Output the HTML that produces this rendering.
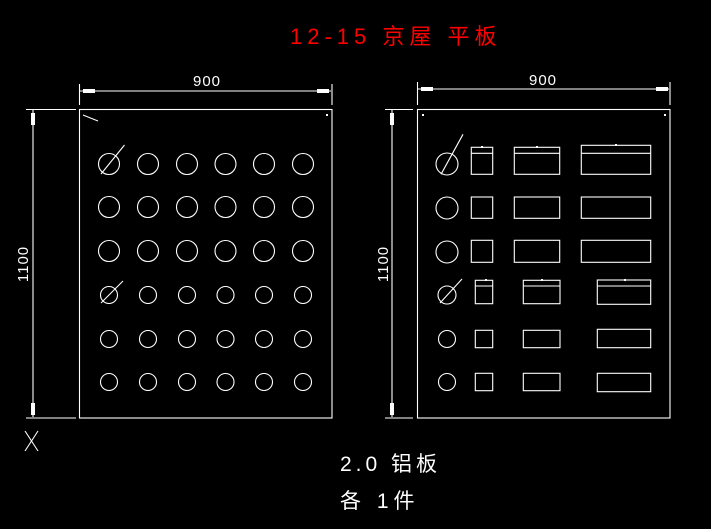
<!DOCTYPE html>
<html><head><meta charset="utf-8"><style>
html,body{margin:0;padding:0;background:#000;width:711px;height:529px;overflow:hidden}
svg{display:block}
text{font-family:"Liberation Sans","Noto Sans CJK SC",sans-serif}
</style></head><body>
<svg width="711" height="529" viewBox="0 0 711 529" xmlns="http://www.w3.org/2000/svg">
<rect width="711" height="529" fill="#000"/>
<text x="290" y="44" fill="#ff0000" font-size="22" letter-spacing="5">12-15 京屋 平板</text>
<g stroke="#fff" fill="none" stroke-width="1.1">
<rect x="79.5" y="109.5" width="252.5" height="308.5"/>
<line x1="79.5" y1="84" x2="79.5" y2="105"/><line x1="332" y1="84" x2="332" y2="105"/>
<line x1="80" y1="91" x2="331" y2="91"/>
<line x1="26" y1="109.5" x2="76" y2="109.5"/><line x1="26" y1="418" x2="76" y2="418"/>
<line x1="33" y1="110" x2="33" y2="417"/>
<line x1="83" y1="115" x2="98" y2="121"/>
<line x1="101" y1="174" x2="124.5" y2="145"/>
<line x1="101" y1="303" x2="123" y2="281"/>
<rect x="417.5" y="109.5" width="252.5" height="308.5"/>
<line x1="417.5" y1="82" x2="417.5" y2="105"/><line x1="670" y1="82" x2="670" y2="105"/>
<line x1="418" y1="89" x2="669" y2="89"/>
<line x1="385" y1="109.5" x2="413" y2="109.5"/><line x1="385" y1="418" x2="413" y2="418"/>
<line x1="392" y1="110" x2="392" y2="417"/>
<line x1="441" y1="174.3" x2="463" y2="134.3"/>
<line x1="440" y1="303" x2="462" y2="279"/>
<g>
<circle cx="109" cy="164" r="10.5"/><circle cx="148" cy="164" r="10.5"/><circle cx="187" cy="164" r="10.5"/><circle cx="225.5" cy="164" r="10.5"/><circle cx="264" cy="164" r="10.5"/><circle cx="303" cy="164" r="10.5"/>
<circle cx="109" cy="207" r="10.5"/><circle cx="148" cy="207" r="10.5"/><circle cx="187" cy="207" r="10.5"/><circle cx="225.5" cy="207" r="10.5"/><circle cx="264" cy="207" r="10.5"/><circle cx="303" cy="207" r="10.5"/>
<circle cx="109" cy="251" r="10.5"/><circle cx="148" cy="251" r="10.5"/><circle cx="187" cy="251" r="10.5"/><circle cx="225.5" cy="251" r="10.5"/><circle cx="264" cy="251" r="10.5"/><circle cx="303" cy="251" r="10.5"/>
<circle cx="109" cy="295" r="8.5"/><circle cx="148" cy="295" r="8.5"/><circle cx="187" cy="295" r="8.5"/><circle cx="225.5" cy="295" r="8.5"/><circle cx="264" cy="295" r="8.5"/><circle cx="303" cy="295" r="8.5"/>
<circle cx="109" cy="339" r="8.5"/><circle cx="148" cy="339" r="8.5"/><circle cx="187" cy="339" r="8.5"/><circle cx="225.5" cy="339" r="8.5"/><circle cx="264" cy="339" r="8.5"/><circle cx="303" cy="339" r="8.5"/>
<circle cx="109" cy="382" r="8.5"/><circle cx="148" cy="382" r="8.5"/><circle cx="187" cy="382" r="8.5"/><circle cx="225.5" cy="382" r="8.5"/><circle cx="264" cy="382" r="8.5"/><circle cx="303" cy="382" r="8.5"/>
</g>
<circle cx="447" cy="164" r="11"/><circle cx="447" cy="208" r="11"/><circle cx="447" cy="252" r="11"/>
<circle cx="447" cy="295" r="9"/><circle cx="447" cy="339" r="8.5"/><circle cx="447" cy="382" r="8.5"/>
<rect x="471.3" y="147.3" width="21.4" height="27"/><line x1="471.3" y1="153.3" x2="492.7" y2="153.3"/>
<rect x="514.3" y="147.3" width="45.4" height="27"/><line x1="514.3" y1="153.3" x2="559.7" y2="153.3"/>
<rect x="581.3" y="145.3" width="69.4" height="29"/><line x1="581.3" y1="153.3" x2="650.7" y2="153.3"/>
<rect x="471.3" y="197" width="21.4" height="21.3"/><rect x="514.3" y="197" width="45.4" height="21.3"/><rect x="581.3" y="197" width="69.4" height="21.3"/>
<rect x="471.3" y="240.3" width="21.4" height="22"/><rect x="514.3" y="240.3" width="45.4" height="22"/><rect x="581.3" y="240.3" width="69.4" height="22"/>
<rect x="475.3" y="280.3" width="17.4" height="23.4"/><line x1="475.3" y1="286" x2="492.7" y2="286"/>
<rect x="523.3" y="280.3" width="36.7" height="23.4"/><line x1="523.3" y1="286" x2="560" y2="286"/>
<rect x="597.3" y="280" width="53.4" height="24.3"/><line x1="597.3" y1="286" x2="650.7" y2="286"/>
<rect x="475.3" y="330.3" width="17.4" height="17.4"/><rect x="523.3" y="330.3" width="36.7" height="17.4"/><rect x="597.3" y="329.3" width="53.4" height="18.4"/>
<rect x="475.3" y="373.3" width="17.4" height="17.4"/><rect x="523.3" y="373.3" width="36.7" height="17.4"/><rect x="597.3" y="373.3" width="53.4" height="18.4"/>
<line x1="25" y1="431" x2="38" y2="451"/><line x1="38" y1="431" x2="25" y2="451"/>
</g>
<g fill="#fff">
<rect x="83" y="89" width="12" height="4"/><rect x="317" y="89" width="12" height="4"/>
<rect x="31" y="113" width="4" height="12"/><rect x="31" y="403" width="4" height="12"/>
<rect x="421" y="87" width="12" height="4"/><rect x="656" y="87" width="12" height="4"/>
<rect x="390" y="113" width="4" height="12"/><rect x="390" y="403" width="4" height="12"/>
<rect x="326" y="114" width="2" height="2"/><rect x="422" y="114" width="2" height="2"/><rect x="664" y="114" width="2" height="2"/>
<rect x="481" y="146" width="2" height="2"/><rect x="536" y="146" width="2" height="2"/><rect x="615" y="144" width="2" height="2"/>
<rect x="485" y="279" width="2" height="2"/><rect x="541" y="279" width="2" height="2"/><rect x="624" y="279" width="2" height="2"/>
<text x="207" y="86" font-size="15" text-anchor="middle" letter-spacing="1">900</text>
<text x="543" y="85" font-size="15" text-anchor="middle" letter-spacing="1">900</text>
<text transform="translate(28,264) rotate(-90)" font-size="15" text-anchor="middle" letter-spacing="1">1100</text>
<text transform="translate(388,264) rotate(-90)" font-size="15" text-anchor="middle" letter-spacing="1">1100</text>
<text x="340" y="471" font-size="21" letter-spacing="4">2.0 铝板</text>
<text x="340" y="508" font-size="21" letter-spacing="5">各 1件</text>
</g>
</svg>
</body></html>
